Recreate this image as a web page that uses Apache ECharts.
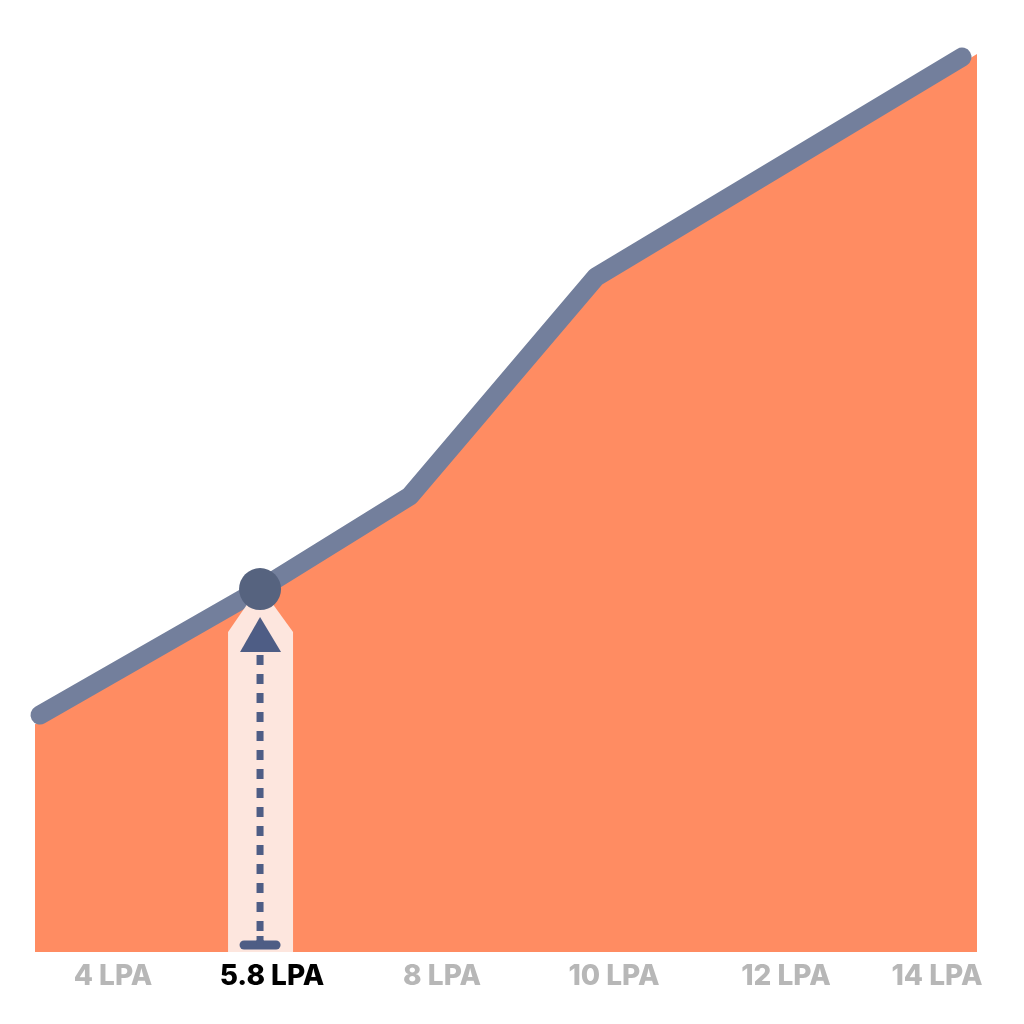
<!DOCTYPE html>
<html>
<head>
<meta charset="utf-8">
<script src="https://cdn.jsdelivr.net/npm/echarts@6/dist/echarts.min.js"></script>
<style>
  html, body { margin: 0; padding: 0; background: #fff; }
  #chart { width: 1024px; height: 1024px; }
</style>
</head>
<body>
<div id="chart"></div>
<script>
// salary curve, x in position units (0..100), y in score units (0..100)
const lineX = [0.53, 23.89, 39.81, 59.55, 98.41];
const lineY = [26.33, 40.33, 50.67, 75.0, 99.44];

// filled area under the curve (runs edge to edge)
const areaX = [0, 23.89, 39.81, 59.55, 100];
const areaY = [25.3, 39.67, 50.0, 74.33, 99.78];

// highlighted point
const markX = [23.89];
const markY = [40.33];

// tick labels along the bottom
const tickLabels = ['4 LPA', '5.8 LPA', '8 LPA', '10 LPA', '12 LPA', '14 LPA'];
const tickValues = [8.28, 25.16, 43.21, 61.46, 79.72, 95.75];
const activeLabel = '5.8 LPA';

const chart = echarts.init(document.getElementById('chart'));

function renderMarker(params, api) {
  const p = api.coord([api.value(0), api.value(1)]);
  const b = api.coord([api.value(0), 0]);
  const cx = p[0];
  const cy = p[1];
  const dark = '#4e5d85';
  return {
    type: 'group',
    children: [
      {
        type: 'polygon',
        shape: {
          points: [
            [cx - 32, b[1]], [cx - 32, cy + 43], [cx - 12, cy + 14],
            [cx + 12, cy + 14], [cx + 33, cy + 43], [cx + 33, b[1]]
          ]
        },
        style: { fill: '#fde6de' }
      },
      {
        type: 'line',
        shape: { x1: cx, y1: cy + 66, x2: cx, y2: b[1] - 8 },
        style: { stroke: dark, lineWidth: 7, lineDash: [10, 9] }
      },
      {
        type: 'polygon',
        shape: { points: [[cx, cy + 28], [cx - 20, cy + 63], [cx + 21, cy + 63]] },
        style: { fill: dark }
      },
      {
        type: 'line',
        shape: { x1: cx - 16, y1: b[1] - 7, x2: cx + 16, y2: b[1] - 7 },
        style: { stroke: dark, lineWidth: 9, lineCap: 'round' }
      },
      {
        type: 'line',
        shape: { x1: cx, y1: b[1] - 16, x2: cx, y2: b[1] - 7 },
        style: { stroke: dark, lineWidth: 7 }
      },
      {
        type: 'circle',
        shape: { cx: cx, cy: cy, r: 21 },
        style: { fill: '#56637f' }
      }
    ]
  };
}

chart.setOption({
  animation: false,
  backgroundColor: '#ffffff',
  grid: { left: 35, right: 47, top: 52, bottom: 72 },
  xAxis: {
    type: 'value',
    min: 0,
    max: 100,
    splitLine: { show: false },
    axisLine: { show: false },
    axisTick: { show: false },
    axisLabel: {
      customValues: tickValues,
      margin: 11,
      formatter: (value) => {
        const i = tickValues.findIndex(v => Math.abs(v - value) < 0.01);
        const text = i >= 0 ? tickLabels[i] : '';
        return text === activeLabel ? `{on|${text}}` : `{off|${text}}`;
      },
      rich: {
        on: { color: '#000000', fontFamily: 'Inter', fontWeight: 800, fontSize: 28 },
        off: { color: '#b7b7b7', fontFamily: 'Inter', fontWeight: 800, fontSize: 28 }
      }
    }
  },
  yAxis: {
    type: 'value',
    min: 0,
    max: 100,
    show: false
  },
  series: [
    {
      type: 'line',
      data: areaX.map((x, i) => [x, areaY[i]]),
      symbol: 'none',
      lineStyle: { width: 0 },
      areaStyle: { color: '#ff8c62', opacity: 1 },
      z: 1
    },
    {
      type: 'line',
      data: lineX.map((x, i) => [x, lineY[i]]),
      symbol: 'none',
      lineStyle: { width: 19, color: '#737f9c', cap: 'round', join: 'round' },
      z: 2
    },
    {
      type: 'custom',
      data: markX.map((x, i) => [x, markY[i]]),
      renderItem: renderMarker,
      z: 3
    }
  ]
});
</script>
</body>
</html>
